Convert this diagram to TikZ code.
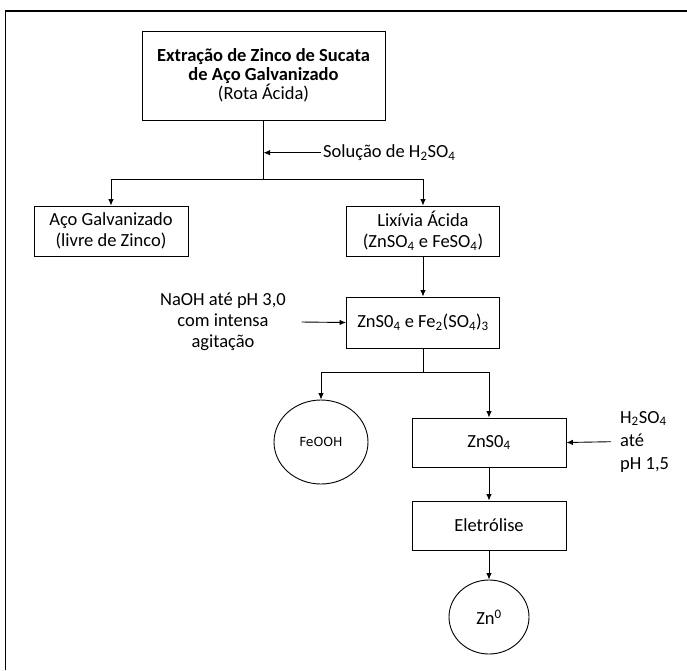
\documentclass[tikz,border=0pt]{standalone}
\usepackage{fontspec}
\setmainfont{Carlito}
\newfontfamily\labelsans{DejaVu Sans}
\usetikzlibrary{positioning,arrows.meta,shapes.geometric}

\begin{document}
\begin{tikzpicture}[x=1pt,y=-1pt,>={Latex[length=6.5pt,width=5.5pt]},
  every node/.style={font=\fontsize{18.5}{21}\selectfont},
  box/.style={draw,line width=0.9pt,minimum width=154pt,minimum height=50pt,align=center,inner sep=2pt},
  blob/.style={draw,line width=0.9pt,ellipse,inner sep=0pt},
  flow/.style={->,line width=0.9pt}]
  \useasboundingbox (0,0) rectangle (687,670);
  % open frame round the chart, cut by the page
  \draw[line width=1.3pt] (5.5,670) |- (687,11);

  \node[box,minimum width=243pt,minimum height=89pt,font=\fontsize{18.5}{19}\selectfont] (top) at (263.5,75.5)
    {\textbf{Extração de Zinco de Sucata}\\\textbf{de Aço Galvanizado}\\(Rota Ácida)};
  \node[anchor=west,inner sep=2pt] (sol) at (321,152.7) {Solução de H\textsubscript{2}SO\textsubscript{4}};
  \coordinate (split) at (263.5,179);

  \node[box] (aco) at (111,231) {Aço Galvanizado\\(livre de Zinco)};
  \node[box,minimum width=153pt] (lix) at (423,231) {Lixívia Ácida\\(ZnSO\textsubscript{4} e FeSO\textsubscript{4})};
  \node[box,minimum width=153pt,minimum height=51pt] (mix) at (423,322.5)
    {ZnS0\textsubscript{4} e Fe\textsubscript{2}(SO\textsubscript{4})\textsubscript{3}};
  \node[align=center,font=\fontsize{18.5}{21}\selectfont] (naoh) at (223,322) {NaOH até pH 3,0\\com intensa\\agitação};
  \coordinate (naohin) at (301.5,322);
  \coordinate (split2) at (423,372.7);

  \node[blob,minimum width=94pt,minimum height=84pt,font=\labelsans\fontsize{12.5}{14}\selectfont] (feooh) at (321,442) {FeOOH};
  \node[box,minimum height=49pt] (zns) at (489,442.5) {ZnS0\textsubscript{4}};
  \node[anchor=west,align=left,inner sep=0pt,font=\fontsize{18.5}{23}\selectfont] (acid) at (620,441.7)
    {H\textsubscript{2}SO\textsubscript{4}\\até\\pH 1,5};
  \coordinate (acidin) at (611,441.7);
  \node[box,minimum height=49pt] (ele) at (489,525.5) {Eletrólise};
  \node[blob,minimum width=80pt,minimum height=74pt] (zn) at (489,617) {Zn\textsuperscript{0}};

  \draw[line width=0.9pt] (top.south) -- (split);
  \draw[flow] (sol.west) -- (sol.west -| top.south);
  \draw[flow] (split) -| (aco.north);
  \draw[flow] (split) -| (lix.north);
  \draw[flow] (lix.south) -- (mix.north);
  \draw[flow] (naohin) -- (mix.west);
  \draw[line width=0.9pt] (mix.south) -- (split2);
  \draw[flow] (split2) -| (feooh.north);
  \draw[flow] (split2) -| (zns.north);
  \draw[flow] (acidin) -- (zns.east);
  \draw[flow] (zns.south) -- (ele.north);
  \draw[flow] (ele.south) -- (zn.north);
\end{tikzpicture}
\end{document}
